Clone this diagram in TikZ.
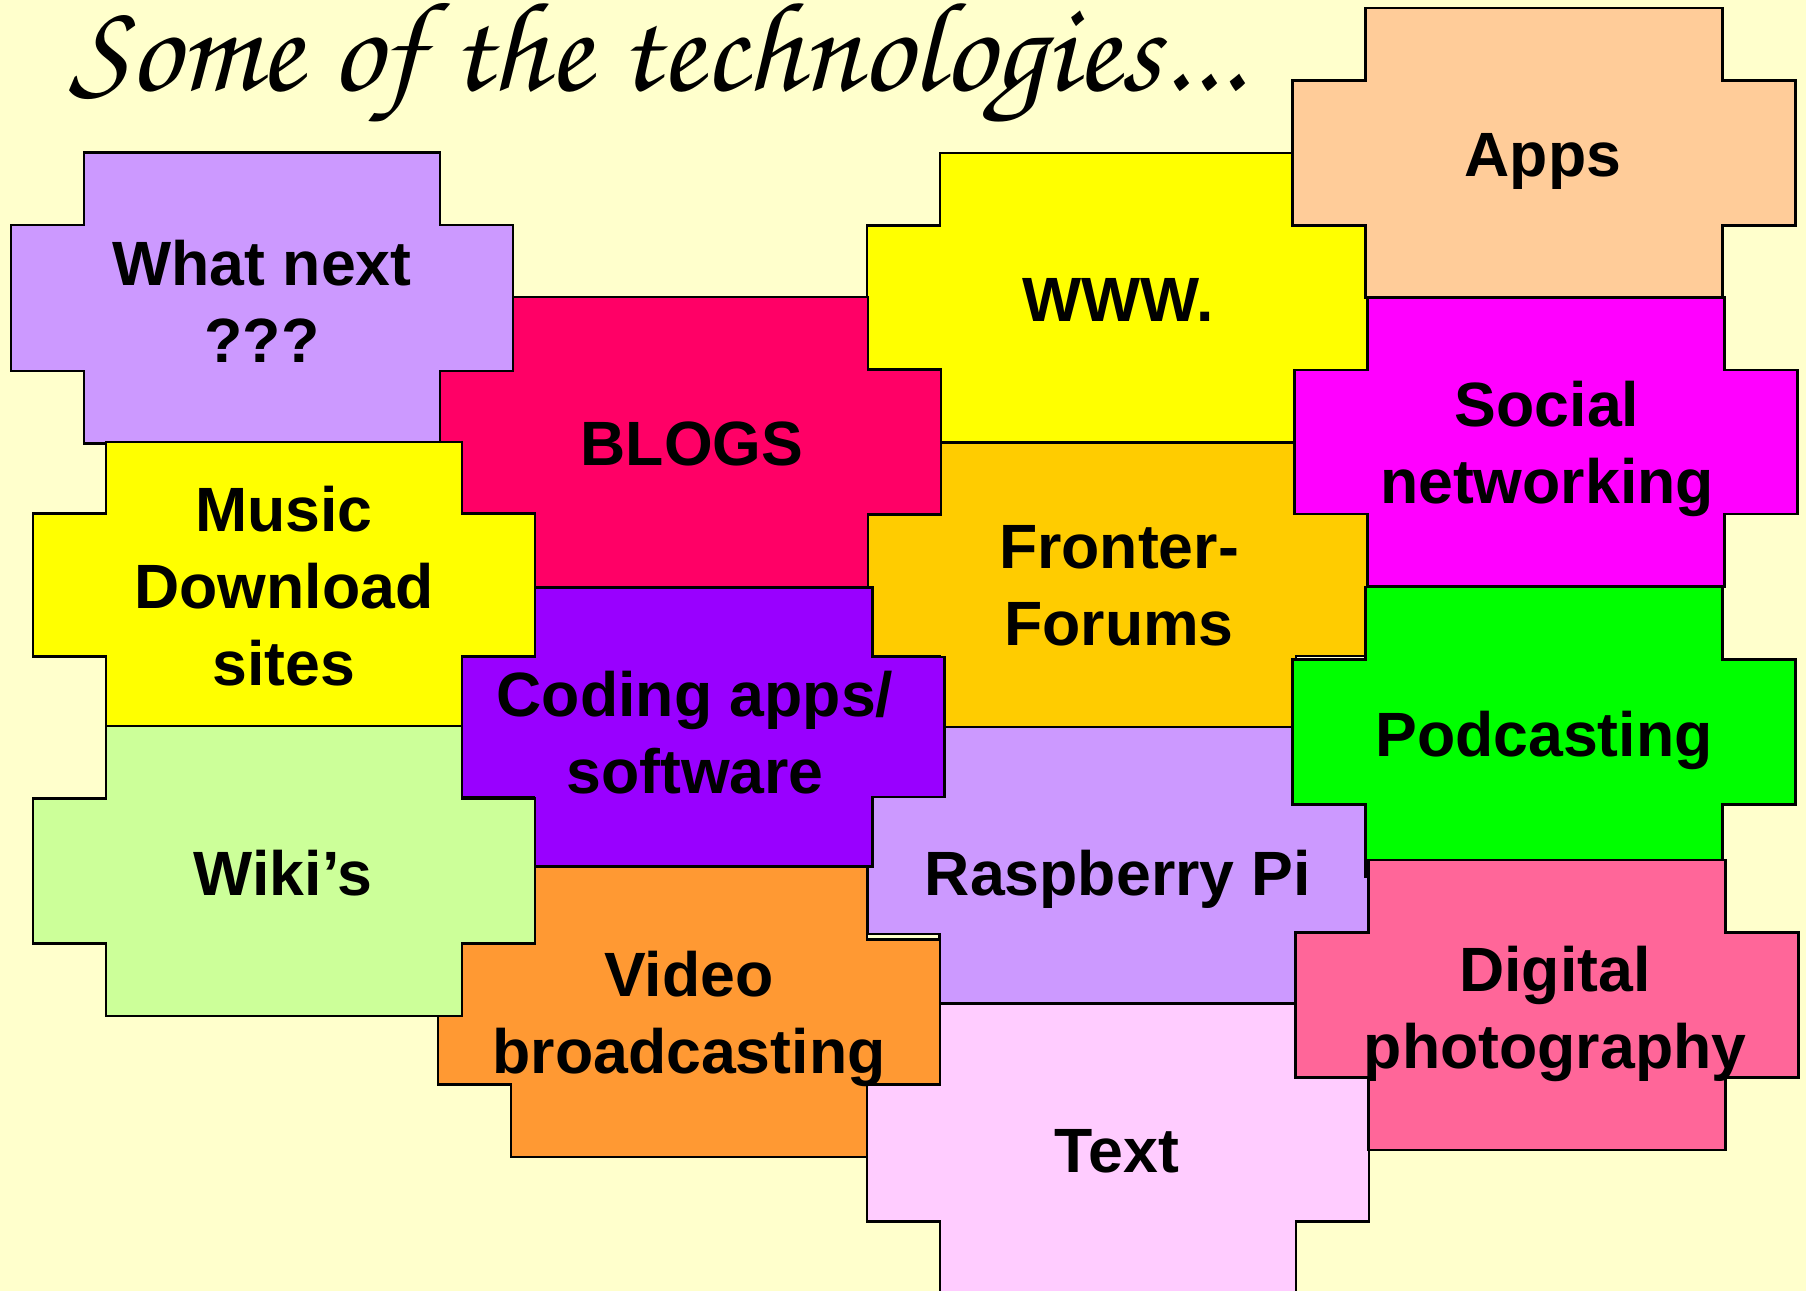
\documentclass[tikz,border=0pt]{standalone}
\usepackage{fontspec}
\setmainfont{Liberation Sans}
\newfontfamily\handfont{texgyrechorus-mediumitalic.otf}

\definecolor{paper}{HTML}{FFFFCC}
\definecolor{lilac}{HTML}{CC99FF}
\definecolor{blogred}{HTML}{FF0066}
\definecolor{lemon}{HTML}{FFFF00}
\definecolor{violet}{HTML}{9900FF}
\definecolor{lime}{HTML}{CCFF99}
\definecolor{tangerine}{HTML}{FF9933}
\definecolor{gold}{HTML}{FFCC00}
\definecolor{candy}{HTML}{FFCCFF}
\definecolor{peach}{HTML}{FFCC99}
\definecolor{fuchsia}{HTML}{FF00FF}
\definecolor{neon}{HTML}{00FF00}
\definecolor{rose}{HTML}{FF6699}

\tikzset{
  tileline/.style={draw=black, line width=0.6pt},
  tiletext/.style={font=\fontsize{17.8}{21.9}\selectfont\bfseries, align=center, text=black, inner sep=0pt}
}

\begin{document}
\begin{tikzpicture}[x=0.01cm,y=-0.01cm]
    \fill[paper] (0,0) rectangle (1806,1291);
    \useasboundingbox (0,0) rectangle (1806,1291);
    % centre x / centre y / width / height / tab / colour
    \foreach \cx/\cy/\w/\h/\t/\col in {
        1118/298/356/290/73/lemon, 1118/585/356/285/73/gold,
        1118/865/357/276/72/lilac, 1118/1149/356/290/73/candy,
        1544/153/357/290/73/peach, 1546/442/357/289/73/fuchsia,
        1544/732/357/290/73/neon, 1547/1005/357/290/73/rose,
        690/442/356/290/73/blogred, 703/727/339/279/72/violet,
        689/1012/356/290/73/tangerine,
        262/298/356/291/73/lilac, 284/585/356/286/73/lemon,
        284/871/356/290/73/lime}
    {
        \draw[tileline, fill=\col] ({\cx-\w/2},{\cy-\h/2}) -- ++(\w,0) -- ++(0,\h/4)
            -- ++(\t,0) -- ++(0,\h/2) -- ++(-\t,0) -- ++(0,\h/4) -- ++(-\w,0)
            -- ++(0,-\h/4) -- ++(-\t,0) -- ++(0,-\h/2) -- ++(\t,0) -- cycle;
    }
    \node[anchor=base west, font=\handfont\fontsize{36.4}{36.4}\selectfont] (title) at (57,91) {Some of the technologies...};
    \node[tiletext] (whatnext) at (262,301) {What next\\???};
    \node[tiletext] (music) at (284,586) {Music\\Download\\sites};
    \node[tiletext] (wikis) at (283,873) {Wiki’s};
    \node[tiletext] (blogs) at (692,444) {BLOGS};
    \node[tiletext] (coding) at (695,733) {Coding apps/\\software};
    \node[tiletext] (video) at (689,1019) {Video\\broadcasting};
    \node[tiletext] (www) at (1118,300) {WWW.};
    \node[tiletext] (fronter) at (1119,586) {Fronter-\\Forums};
    \node[tiletext] (raspberry) at (1118,879) {Raspberry Pi};
    \node[tiletext] (text) at (1117,1151) {Text};
    \node[tiletext] (apps) at (1543,161) {Apps};
    \node[tiletext] (social) at (1547,449) {Social\\networking};
    \node[tiletext] (podcasting) at (1544,740) {Podcasting};
    \node[tiletext] (digital) at (1555,1014) {Digital\\photography};
\end{tikzpicture}
\end{document}
